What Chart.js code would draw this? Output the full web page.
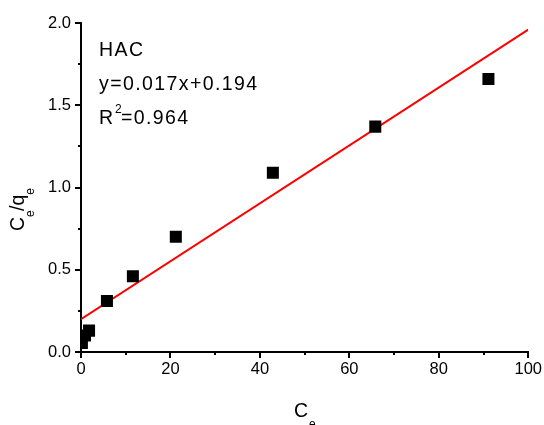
<!DOCTYPE html>
<html>
<head>
<meta charset="utf-8">
<script src="https://cdn.jsdelivr.net/npm/chart.js@4/dist/chart.umd.min.js"></script>
<style>
  body { margin: 0; background: #fff; }
  canvas { display: block; }
</style>
</head>
<body>
<canvas id="chart" width="544" height="425"></canvas>
<script>
// data
const ceValues = [0.2, 0.9, 1.8, 5.8, 11.6, 21.2, 42.9, 65.8, 91.1];
const ratioValues = [0.055, 0.10, 0.13, 0.31, 0.46, 0.70, 1.09, 1.37, 1.66];

// red fit line, ends as drawn
const fitX = [0, 100];
const fitY = [0.20, 1.96];

const xTicks = [0, 20, 40, 60, 80, 100];
const xMinor = [10, 30, 50, 70, 90];
const yTicks = [0.0, 0.5, 1.0, 1.5, 2.0];
const yMinor = [0.25, 0.75, 1.25, 1.75];

const fitLabels = ["HAC", "y=0.017x+0.194", "R", "=0.964"];

const FONT = "'Liberation Sans', Arial, sans-serif";

// minor ticks + text + axis titles
const extras = {
  id: "extras",
  afterDraw(chart) {
    const ctx = chart.ctx;
    const x = chart.scales.x, y = chart.scales.y;
    const area = chart.chartArea;
    ctx.save();
    ctx.strokeStyle = "#000";
    ctx.lineWidth = 2;
    xMinor.forEach(v => {
      const px = Math.round(x.getPixelForValue(v));
      ctx.beginPath();
      ctx.moveTo(px, area.bottom);
      ctx.lineTo(px, area.bottom + 3);
      ctx.stroke();
    });
    yMinor.forEach(v => {
      const py = Math.round(y.getPixelForValue(v));
      ctx.beginPath();
      ctx.moveTo(area.left, py);
      ctx.lineTo(area.left - 3, py);
      ctx.stroke();
    });

    // annotation text
    ctx.fillStyle = "#000";
    ctx.textBaseline = "alphabetic";
    ctx.textAlign = "left";
    ctx.letterSpacing = "1.4px";
    ctx.font = "19.5px " + FONT;
    ctx.fillText(fitLabels[0], 99, 56);
    ctx.fillText(fitLabels[1], 99, 90);
    ctx.fillText(fitLabels[2], 99, 124);
    ctx.font = "12px " + FONT;
    ctx.fillText("2", 115, 113);
    ctx.font = "19.5px " + FONT;
    ctx.fillText(fitLabels[3], 121, 124);
    ctx.letterSpacing = "0px";

    // x title C_e
    ctx.font = "19.5px " + FONT;
    ctx.fillText("C", 294, 417);
    ctx.font = "12px " + FONT;
    ctx.fillText("e", 309, 428);

    // y title C_e /q_e rotated
    ctx.translate(24, 231);
    ctx.rotate(-Math.PI / 2);
    ctx.font = "19.5px " + FONT;
    ctx.fillText("C", 0, 0);
    const w = ctx.measureText("C").width;
    ctx.font = "12px " + FONT;
    ctx.fillText("e", w, 10);
    ctx.font = "19.5px " + FONT;
    ctx.fillText("/q", w + 6, 0);
    const w2 = ctx.measureText("/q").width;
    ctx.font = "12px " + FONT;
    ctx.fillText("e", w + 6 + w2, 10);
    ctx.restore();
  }
};

new Chart(document.getElementById("chart"), {
  type: "scatter",
  data: {
    datasets: [
      {
        label: "fit",
        data: fitX.map((v, i) => ({ x: v, y: fitY[i] })),
        showLine: true,
        borderColor: "#ff0000",
        borderWidth: 2,
        pointRadius: 0,
        order: 1
      },
      {
        label: "HAC",
        data: ceValues.map((v, i) => ({ x: v, y: ratioValues[i] })),
        pointStyle: "rect",
        pointRadius: 8.5,
        pointHoverRadius: 8.5,
        backgroundColor: "#000",
        borderColor: "#000",
        borderWidth: 0,
        order: 0
      }
    ]
  },
  options: {
    responsive: false,
    animation: false,
    layout: { padding: { left: 0, top: 23, right: 15, bottom: 0 } },
    plugins: { legend: { display: false }, tooltip: { enabled: false } },
    scales: {
      x: {
        type: "linear",
        min: 0,
        max: 100,
        afterBuildTicks: s => { s.ticks = xTicks.map(v => ({ value: v })); },
        afterFit: s => { s.height = 73; },
        border: { color: "#000", width: 2 },
        grid: { drawOnChartArea: false, color: "#000", lineWidth: 2, tickLength: 6 },
        ticks: { color: "#000", font: { family: FONT, size: 16.5 }, padding: 2, maxRotation: 0 }
      },
      y: {
        type: "linear",
        min: 0,
        max: 2,
        afterBuildTicks: s => { s.ticks = yTicks.map(v => ({ value: v })); },
        afterFit: s => { s.width = 81; },
        border: { color: "#000", width: 2 },
        grid: { drawOnChartArea: false, color: "#000", lineWidth: 2, tickLength: 6 },
        ticks: { color: "#000", font: { family: FONT, size: 16.5 }, padding: 4, callback: v => v.toFixed(1) }
      }
    }
  },
  plugins: [extras]
});
</script>
</body>
</html>
